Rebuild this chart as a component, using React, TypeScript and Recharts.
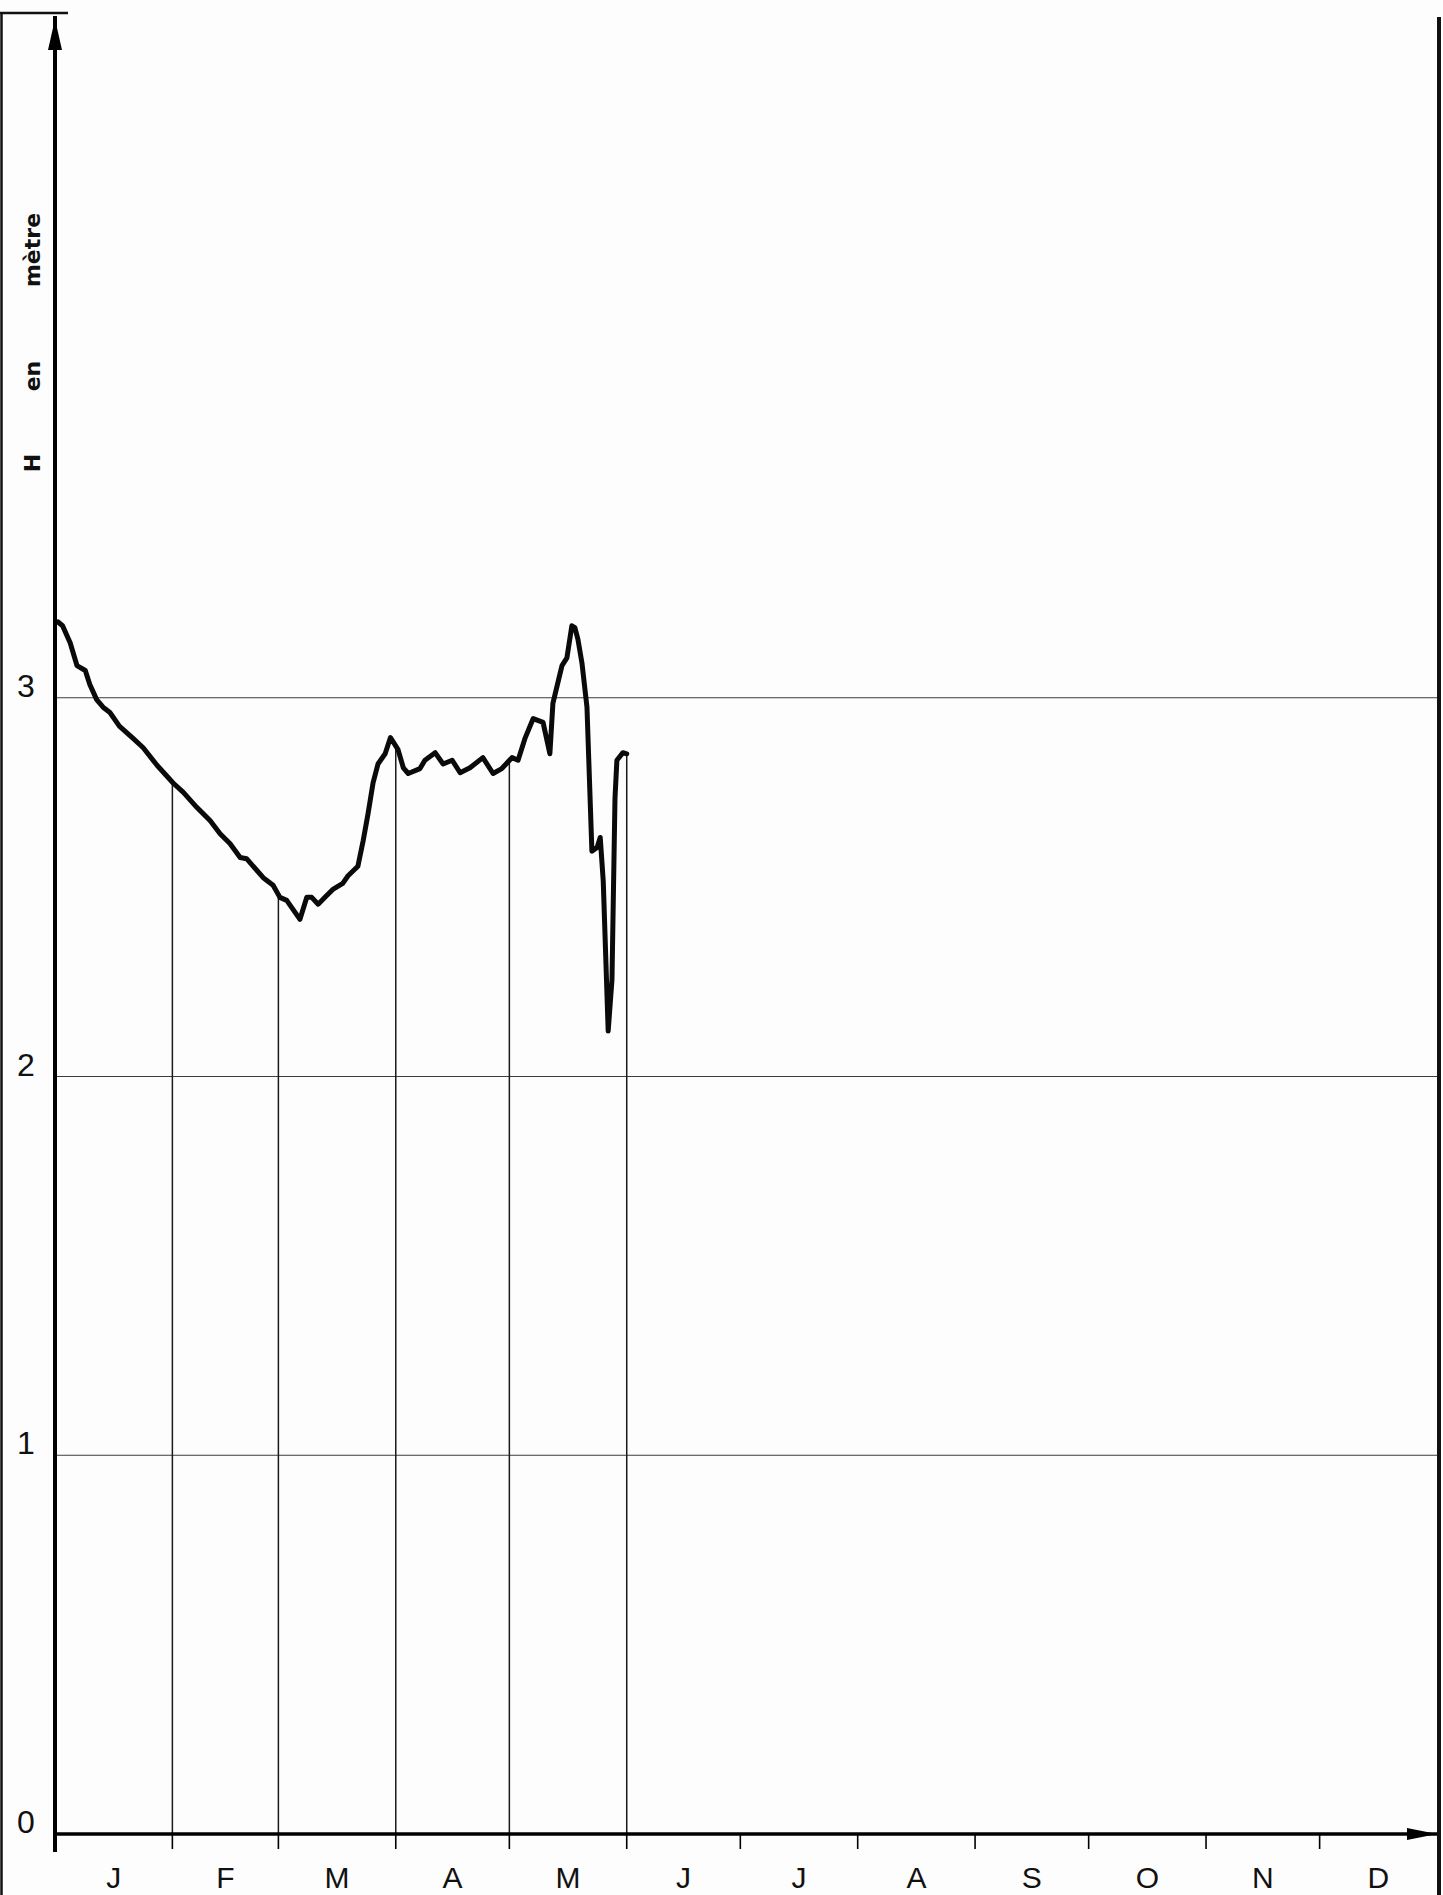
import React from 'react';
import { LineChart, Line, XAxis, YAxis, ReferenceLine, ReferenceDot } from 'recharts';

const days = [
  0.8, 2, 4, 5.8, 8, 9.2, 11, 12.7, 14.5, 17, 20.7, 23.3, 27, 31.2, 33.9, 37.5, 41, 43.6, 46.2, 48.9,
  50.6, 55, 57.6, 59.4, 61.2, 64.7, 66.5, 67.8, 69.5, 71.3, 73.5, 76, 77.4, 80, 81.4, 82.7, 84, 85.3,
  87.2, 88.6, 90.6, 92, 93.3, 96.4, 97.7, 100.4, 102.5, 104.9, 107, 109.6, 113, 115.7, 118, 120.7,
  122.3, 124.1, 126.3, 128.9, 130.7, 131.5, 133.9, 135.2, 136.5, 137.3, 138.1, 139.2, 140.5, 141.8,
  143.2, 144, 144.8, 146.1, 147.1, 147.9, 148.4, 150, 151,
];
const levels = [
  3.2, 3.19, 3.145, 3.085, 3.072, 3.035, 2.995, 2.975, 2.961, 2.925, 2.892, 2.868, 2.821, 2.775, 2.75,
  2.71, 2.675, 2.641, 2.615, 2.578, 2.575, 2.525, 2.505, 2.473, 2.465, 2.415, 2.473, 2.473, 2.455,
  2.473, 2.495, 2.51, 2.53, 2.555, 2.623, 2.695, 2.775, 2.825, 2.852, 2.895, 2.863, 2.815, 2.8, 2.813,
  2.835, 2.855, 2.825, 2.835, 2.802, 2.815, 2.842, 2.8, 2.813, 2.842, 2.835, 2.892, 2.945, 2.935, 2.852,
  2.985, 3.085, 3.105, 3.19, 3.185, 3.155, 3.09, 2.975, 2.595, 2.605, 2.631, 2.515, 2.12, 2.255, 2.735,
  2.835, 2.855, 2.852,
];

const monthLetters = ['J', 'F', 'M', 'A', 'M', 'J', 'J', 'A', 'S', 'O', 'N', 'D'];
const monthStarts = [0, 31, 59, 90, 120, 151, 181, 212, 243, 273, 304, 334, 365];
const monthTicks = [31, 59, 90, 120, 151, 181, 212, 243, 273, 304, 334];
const dropLineDays = [31, 59, 90, 120, 151];
const yTicks = [0, 1, 2, 3];
const gridLevels = [1, 2, 3];
const yMax = 4.8;
const xMax = 365;

const data = days.map((d, i) => ({ day: d, h: levels[i] }));
const monthMids = monthLetters.map((_, i) => (monthStarts[i] + monthStarts[i + 1]) / 2);
const xTicks = [...monthTicks, ...monthMids].sort((a, b) => a - b);

const levelAt = (d: number) => {
  if (d <= days[0]) return levels[0];
  for (let i = 1; i < days.length; i++) {
    if (d <= days[i]) {
      const t = (d - days[i - 1]) / (days[i] - days[i - 1]);
      return levels[i - 1] + t * (levels[i] - levels[i - 1]);
    }
  }
  return levels[levels.length - 1];
};

const W = 1443;
const H = 1895;

const YTick = (props: any) => {
  const { x, y, payload } = props;
  return (
    <text x={x - 29} y={y - 1} textAnchor="middle" fontSize={32} fontFamily="Liberation Sans" fill="#111">
      {payload.value}
    </text>
  );
};

const XTick = (props: any) => {
  const { x, y, payload } = props;
  const v = payload.value;
  if (monthTicks.includes(v)) {
    return <line x1={x} y1={y} x2={x} y2={y + 15} stroke="#000" strokeWidth={1.6} />;
  }
  const idx = monthMids.indexOf(v);
  if (idx < 0) return <g />;
  return (
    <text x={x} y={y + 54} textAnchor="middle" fontSize={30} fontFamily="Liberation Sans" fill="#111">
      {monthLetters[idx]}
    </text>
  );
};

const YTitle = () => (
  <g fontFamily="DejaVu Sans" fontWeight="bold" fontSize={22} fill="#111">
    <text transform="translate(40,463) rotate(-90)" textAnchor="middle">H</text>
    <text transform="translate(40,376) rotate(-90)" textAnchor="middle">en</text>
    <text transform="translate(40,250) rotate(-90)" textAnchor="middle">mètre</text>
  </g>
);

const UpArrow = (p: any) => (
  <polygon points={`${p.cx},${p.cy + 3} ${p.cx - 7},${p.cy + 34} ${p.cx + 7},${p.cy + 34}`} fill="#000" />
);
const RightArrow = (p: any) => (
  <polygon points={`${p.cx},${p.cy} ${p.cx - 30},${p.cy - 6} ${p.cx - 30},${p.cy + 6}`} fill="#000" />
);

export default function App() {
  return (
    <div style={{ position: 'absolute', left: 0, top: 0, width: W, height: H, background: '#fdfdfd', overflow: 'hidden' }}>
      <LineChart width={W} height={H} data={data} margin={{ top: 16, right: 6, bottom: 1, left: 0 }}>
        <XAxis
          type="number"
          dataKey="day"
          domain={[0, xMax]}
          ticks={xTicks}
          interval={0}
          height={60}
          tickSize={0}
          tickMargin={0}
          tickLine={false}
          axisLine={{ stroke: '#000', strokeWidth: 3.5 }}
          tick={<XTick />}
        />
        <YAxis
          type="number"
          domain={[0, yMax]}
          ticks={yTicks}
          width={55}
          interval={0}
          tickSize={0}
          tickMargin={0}
          tickLine={false}
          axisLine={{ stroke: '#000', strokeWidth: 4 }}
          tick={<YTick />}
          label={<YTitle />}
        />
        {gridLevels.map((g) => (
          <ReferenceLine key={`g${g}`} y={g} stroke="#3c3c3c" strokeWidth={1} />
        ))}
        {dropLineDays.map((d) => (
          <ReferenceLine
            key={d}
            segment={[{ x: d, y: 0 }, { x: d, y: levelAt(d) }]}
            stroke="#1a1a1a"
            strokeWidth={1.5}
          />
        ))}
        <ReferenceDot x={0} y={yMax} r={1} ifOverflow="visible" shape={UpArrow} />
        <ReferenceDot x={xMax} y={0} r={1} ifOverflow="visible" shape={RightArrow} />
        <Line
          type="linear"
          dataKey="h"
          stroke="#0a0a0a"
          strokeWidth={5}
          strokeLinejoin="round"
          strokeLinecap="round"
          dot={false}
          isAnimationActive={false}
        />
      </LineChart>
      <svg width={W} height={H} style={{ position: 'absolute', left: 0, top: 0, pointerEvents: 'none' }}>
        <line x1={1.5} y1={12} x2={1.5} y2={H} stroke="#111" strokeWidth={2.5} />
        <line x1={0} y1={13} x2={68} y2={13} stroke="#111" strokeWidth={2.5} />
        <line x1={1439} y1={17} x2={1439} y2={H} stroke="#111" strokeWidth={4} />
        <line x1={55} y1={1834} x2={55} y2={1852} stroke="#000" strokeWidth={4} />
      </svg>
    </div>
  );
}
